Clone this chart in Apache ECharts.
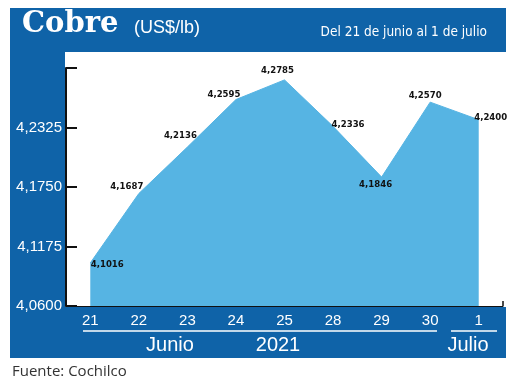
<!DOCTYPE html>
<html><head><meta charset="utf-8">
<script src="https://cdn.jsdelivr.net/npm/echarts@6/dist/echarts.min.js"></script>
<style>html,body{margin:0;padding:0;background:#fff}#c{width:520px;height:385px}</style>
</head><body><div id="c"></div>
<script>
var categories = ['21','22','23','24','25','28','29','30','1'];
var values = [4.1016, 4.1687, 4.2136, 4.2595, 4.2785, 4.2336, 4.1846, 4.2570, 4.2400];
var yTicks = [4.0600, 4.1175, 4.1750, 4.2325];
var labelOffsets = [[17,2],[-12,-7],[-7,-12],[-12,-5],[-7,-9],[15,-2],[-6,7],[-5,-7],[12,-2]];

var BLUE = '#0f63a8';
var LIGHT = '#56b4e3';
function fmt(v){ return v.toFixed(4).replace('.', ','); }

var chart = echarts.init(document.getElementById('c'), null, {renderer:'canvas'});
chart.setOption({
  backgroundColor: '#ffffff',
  animation: false,
  grid: {left: 66, right: 17, top: 68, bottom: 79, containLabel: false},
  xAxis: {
    type: 'category', data: categories, boundaryGap: true,
    axisLine: {show: true, lineStyle: {color: '#111', width: 1}},
    axisTick: {show: true, inside: true, length: 5, lineStyle: {color: '#111', width: 1.5}},
    axisLabel: {color: '#fff', fontFamily: 'Liberation Sans', fontSize: 15, margin: 7}
  },
  yAxis: {
    type: 'value', min: 4.06, max: 4.29, interval: 0.0575,
    splitLine: {show: false},
    axisLine: {show: true, lineStyle: {color: '#111', width: 2}},
    axisTick: {show: true, inside: true, length: 11, lineStyle: {color: '#111', width: 2}},
    axisLabel: {show: true, customValues: yTicks, color: '#fff', fontFamily: 'Liberation Sans', fontSize: 15, margin: 4,
      formatter: function(v){ return fmt(v); }}
  },
  series: [{
    type: 'line',
    data: values.map(function(v, i){
      return {value: v, label: {offset: labelOffsets[i]}};
    }),
    symbol: 'circle', symbolSize: 1,
    itemStyle: {color: 'rgba(0,0,0,0)'},
    lineStyle: {color: LIGHT, width: 1},
    areaStyle: {color: LIGHT, opacity: 1},
    z: 2,
    label: {
      show: true, position: 'inside', color: '#111',
      fontFamily: '"DejaVu Sans Condensed", "Liberation Sans"', fontWeight: 'bold', fontSize: 9.5,
      formatter: function(p){ return fmt(p.value); }
    }
  }],
  graphic: [
    {type: 'rect', z: -10, shape: {x: 10, y: 8, width: 496, height: 44}, style: {fill: BLUE}},
    {type: 'rect', z: -10, shape: {x: 10, y: 8, width: 55, height: 350}, style: {fill: BLUE}},
    {type: 'rect', z: -10, shape: {x: 10, y: 307, width: 496, height: 51}, style: {fill: BLUE}},
    {type: 'text', z: 10, left: 22, top: 10, style: {text: 'Cobre', fill: '#fff', font: 'bold 29px "DejaVu Serif"'}},
    {type: 'text', z: 10, left: 134, top: 19, style: {text: '(US$/lb)', fill: '#fff', font: '18px "Liberation Sans"'}},
    {type: 'text', z: 10, right: 33, top: 25, style: {text: 'Del 21 de junio al 1 de julio', fill: '#fff', font: '13.5px "DejaVu Sans Condensed"'}},
    {type: 'line', z: 10, shape: {x1: 83, y1: 331, x2: 437, y2: 331}, style: {stroke: '#fff', lineWidth: 1.5}},
    {type: 'line', z: 10, shape: {x1: 451, y1: 331, x2: 497, y2: 331}, style: {stroke: '#fff', lineWidth: 1.5}},
    {type: 'text', z: 10, x: 170, y: 345, style: {text: 'Junio', fill: '#fff', font: '20px "Liberation Sans"', textAlign: 'center', textVerticalAlign: 'middle'}},
    {type: 'text', z: 10, x: 278, y: 345, style: {text: '2021', fill: '#fff', font: '20px "Liberation Sans"', textAlign: 'center', textVerticalAlign: 'middle'}},
    {type: 'text', z: 10, x: 468, y: 345, style: {text: 'Julio', fill: '#fff', font: '20px "Liberation Sans"', textAlign: 'center', textVerticalAlign: 'middle'}},
    {type: 'text', z: 10, left: 12, top: 364, style: {text: 'Fuente: Cochilco', fill: '#333', font: '15px "Open Sans"'}}
  ]
});
</script></body></html>
